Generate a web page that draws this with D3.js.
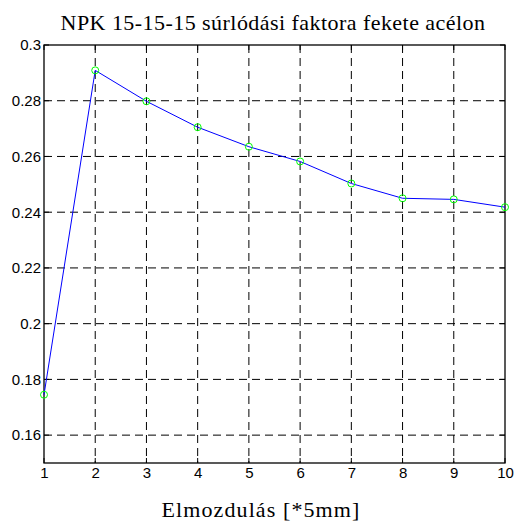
<!DOCTYPE html>
<html>
<head>
<meta charset="utf-8">
<script src="https://cdn.jsdelivr.net/npm/d3@7"></script>
<style>
  body { margin: 0; background: #fff; }
  svg { display: block; }
</style>
</head>
<body>
<svg id="chart" width="517" height="523"></svg>
<script>
const xValues = [1, 2, 3, 4, 5, 6, 7, 8, 9, 10];
const yValues = [0.1745, 0.2909, 0.2798, 0.2705, 0.2635, 0.2582, 0.2503, 0.2450, 0.2446, 0.2418];
const yTicks = [0.16, 0.18, 0.2, 0.22, 0.24, 0.26, 0.28, 0.3];
const yTickLabels = ["0.16", "0.18", "0.2", "0.22", "0.24", "0.26", "0.28", "0.3"];
const titleText = "NPK 15-15-15 súrlódási faktora fekete acélon";
const xLabelText = "Elmozdulás [*5mm]";

const svg = d3.select("#chart");
const plotLeft = 44, plotRight = 505, plotTop = 45, plotBottom = 463;

const x = d3.scaleLinear().domain([1, 10]).range([plotLeft, plotRight]);
const y = d3.scaleLinear().domain([0.15, 0.3]).range([plotBottom, plotTop]);

// grid
svg.selectAll(".vgrid")
    .data(xValues.slice(1, -1))
    .join("line")
    .attr("x1", d => x(d)).attr("x2", d => x(d))
    .attr("y1", plotTop).attr("y2", plotBottom)
    .attr("stroke", "#000").attr("stroke-width", 1)
    .attr("stroke-dasharray", "8,5");
svg.selectAll(".hgrid")
    .data(yTicks.filter(d => d < 0.3))
    .join("line")
    .attr("x1", plotLeft).attr("x2", plotRight)
    .attr("y1", d => y(d)).attr("y2", d => y(d))
    .attr("stroke", "#000").attr("stroke-width", 1)
    .attr("stroke-dasharray", "8,5");

// box
svg.append("rect")
    .attr("x", plotLeft).attr("y", plotTop)
    .attr("width", plotRight - plotLeft).attr("height", plotBottom - plotTop)
    .attr("fill", "none").attr("stroke", "#000").attr("stroke-width", 1.3);

// axes
const xAxis = svg.append("g")
    .attr("transform", `translate(0,${plotBottom})`)
    .call(d3.axisBottom(x).tickValues(xValues).tickSize(0).tickPadding(4).tickFormat(d3.format("d")));
const yAxis = svg.append("g")
    .attr("transform", `translate(${plotLeft},0)`)
    .call(d3.axisLeft(y).tickValues(yTicks).tickSize(0).tickPadding(3)
        .tickFormat((d, i) => yTickLabels[i]));
[xAxis, yAxis].forEach(a => {
    a.select(".domain").remove();
    a.attr("font-size", null).attr("font-family", null);
    a.selectAll("text")
        .style("font-family", "'Liberation Sans', Arial, sans-serif")
        .style("font-size", "15px")
        .attr("fill", "#000");
});

// inward ticks on all sides
svg.selectAll(".tk-b")
    .data(xValues)
    .join("line")
    .attr("x1", d => x(d)).attr("x2", d => x(d))
    .attr("y1", plotBottom).attr("y2", plotBottom - 5)
    .attr("stroke", "#000");
svg.selectAll(".tk-t")
    .data(xValues)
    .join("line")
    .attr("x1", d => x(d)).attr("x2", d => x(d))
    .attr("y1", plotTop).attr("y2", plotTop + 5)
    .attr("stroke", "#000");
svg.selectAll(".tk-l")
    .data(yTicks)
    .join("line")
    .attr("x1", plotLeft).attr("x2", plotLeft + 5)
    .attr("y1", d => y(d)).attr("y2", d => y(d))
    .attr("stroke", "#000");
svg.selectAll(".tk-r")
    .data(yTicks)
    .join("line")
    .attr("x1", plotRight).attr("x2", plotRight - 5)
    .attr("y1", d => y(d)).attr("y2", d => y(d))
    .attr("stroke", "#000");

// line
const data = xValues.map((d, i) => ({ x: d, y: yValues[i] }));
svg.append("path")
    .datum(data)
    .attr("d", d3.line().x(d => x(d.x)).y(d => y(d.y)))
    .attr("fill", "none")
    .attr("stroke", "#0000ff")
    .attr("stroke-width", 1);
svg.selectAll(".pt")
    .data(data)
    .join("circle")
    .attr("cx", d => x(d.x)).attr("cy", d => y(d.y))
    .attr("r", 3.5)
    .attr("fill", "none")
    .attr("stroke", "#00ff00")
    .attr("stroke-width", 1);

// title and label
svg.append("text")
    .attr("x", 273).attr("y", 30)
    .attr("text-anchor", "middle")
    .attr("font-family", "Liberation Serif, Times New Roman, serif")
    .attr("font-size", 22)
    .attr("letter-spacing", "0.45px")
    .text(titleText);
svg.append("text")
    .attr("x", 261).attr("y", 517)
    .attr("text-anchor", "middle")
    .attr("font-family", "Liberation Serif, Times New Roman, serif")
    .attr("font-size", 22)
    .attr("letter-spacing", "1.1px")
    .text(xLabelText);
</script>
</body>
</html>
